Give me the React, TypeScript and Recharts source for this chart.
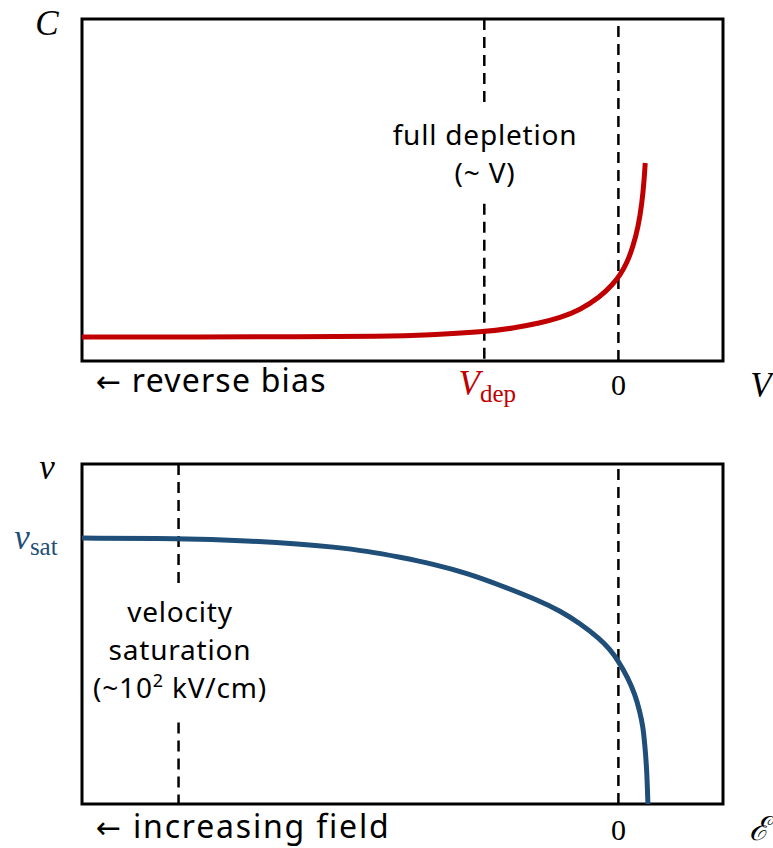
import { LineChart, Line, XAxis, YAxis, ReferenceLine, ReferenceArea } from "recharts";

// shared x domain: 0 sits at ~84% of the box width
const X_MIN = -100;
const X_MAX = 19.5;

// top panel: capacitance vs bias voltage
const biasV = [-100, -78, -59.4, -44.4, -35.1, -25.2, -19.6, -14.6, -10.9, -7.2, -3.4, -1.0, 0.3, 1.6, 2.7, 3.7, 4.4, 4.8, 5.0];
const capacitance = [7.0, 7.0, 7.1, 7.2, 7.6, 8.5, 9.6, 11.1, 12.6, 14.9, 18.7, 22.5, 25.1, 28.7, 33.3, 39.2, 46.2, 52.9, 57.9];
const V_DEP = -25;

// bottom panel: drift velocity vs field
const field = [-100, -81.9, -68.7, -59.4, -53.2, -46.9, -40.7, -34.6, -28.2, -22.1, -14.6, -10.9, -7.2, -3.4, -1.6, -0.1, 1.8, 3.1, 4.0, 4.6, 4.9, 5.3, 5.5];
const velocity = [78.2, 78.1, 77.4, 76.5, 75.6, 74.4, 72.6, 70.6, 67.9, 64.4, 59.7, 56.8, 53.2, 48.5, 45.5, 42.3, 37.0, 32.2, 27.2, 22.6, 17.8, 10.2, 0];
const E_SAT = -82;
const V_SAT = 78;

const capData = biasV.map((v, i) => ({ v, c: capacitance[i] }));
const velData = field.map((e, i) => ({ e, vel: velocity[i] }));

const RED = "#c00000";
const BLUE = "#1f4e79";
const SERIF = "'Liberation Serif', 'DejaVu Serif', serif";
const SANS = "'Noto Sans', sans-serif";
const ARROW = "'DejaVu Sans', sans-serif";
const DASH = "11 7";
const noLig = { fontVariantLigatures: "none" } as const;

const TopXTick = (props: any) => {
  const { x, y, payload } = props;
  const v = payload.value;
  if (v === X_MIN)
    return (
      <text x={x + 14} y={y + 23} fontFamily={SANS} fontSize={32} letterSpacing={1.2} fill="#000" style={noLig}>
        <tspan fontFamily={ARROW} fontSize={30}>←</tspan> reverse bias
      </text>
    );
  if (v === V_DEP)
    return (
      <text x={x + 3} y={y + 26} textAnchor="middle" fontFamily={SERIF} fontSize={35} fill={RED}>
        <tspan fontStyle="italic">V</tspan>
        <tspan fontSize={25} dy={7}>dep</tspan>
      </text>
    );
  if (v === 0)
    return (
      <text x={x} y={y + 26} textAnchor="middle" fontFamily={SERIF} fontSize={30} fill="#000">
        0
      </text>
    );
  return (
    <text x={x + 38} y={y + 28} textAnchor="middle" fontFamily={SERIF} fontStyle="italic" fontSize={35} fill="#000">
      V
    </text>
  );
};

const BottomXTick = (props: any) => {
  const { x, y, payload } = props;
  const v = payload.value;
  if (v === X_MIN)
    return (
      <text x={x + 14} y={y + 26} fontFamily={SANS} fontSize={32} letterSpacing={1.8} fill="#000" style={noLig}>
        <tspan fontFamily={ARROW} fontSize={30}>←</tspan> increasing field
      </text>
    );
  if (v === 0)
    return (
      <text x={x} y={y + 28} textAnchor="middle" fontFamily={SERIF} fontSize={30} fill="#000">
        0
      </text>
    );
  return (
    <text x={x + 36} y={y + 28} textAnchor="middle" fontFamily={SERIF} fontStyle="italic" fontSize={33} fill="#000">
      ℰ
    </text>
  );
};

const TopYTick = (props: any) => {
  const { x, y } = props;
  return (
    <text x={x - 27} y={y + 16} textAnchor="middle" fontFamily={SERIF} fontStyle="italic" fontSize={35} fill="#000">
      C
    </text>
  );
};

const BottomYTick = (props: any) => {
  const { x, y, payload } = props;
  if (payload.value === 100)
    return (
      <text x={x - 27} y={y + 15} textAnchor="middle" fontFamily={SERIF} fontStyle="italic" fontSize={35} fill="#000">
        v
      </text>
    );
  return (
    <text x={x - 38} y={y + 10} textAnchor="middle" fontFamily={SERIF} fontSize={35} fill={BLUE}>
      <tspan fontStyle="italic">v</tspan>
      <tspan fontSize={25} dy={6}>sat</tspan>
    </text>
  );
};

const note = {
  fontFamily: SANS,
  fontSize: 28,
  letterSpacing: 0.8,
  fill: "#000",
  textAnchor: "middle" as const,
  style: noLig,
};

export default function App() {
  return (
    <div style={{ position: "absolute", top: 0, left: 0, width: 773, height: 848, background: "#fff" }}>
      <div style={{ position: "absolute", top: 0, left: 0 }}>
        <LineChart width={773} height={430} data={capData} margin={{ top: 19, right: 50, bottom: 68, left: 81 }}>
          <XAxis
            type="number"
            dataKey="v"
            domain={[X_MIN, X_MAX]}
            ticks={[X_MIN, V_DEP, 0, X_MAX]}
            tick={TopXTick}
            axisLine={false}
            tickLine={false}
            height={1}
            interval={0}
            allowDataOverflow
          />
          <YAxis type="number" domain={[0, 100]} ticks={[100]} tick={TopYTick} axisLine={false} tickLine={false} width={1} interval={0} />
          <ReferenceArea x1={X_MIN} x2={X_MAX} y1={0} y2={100} fill="none" stroke="#000" strokeWidth={3} />
          <ReferenceLine segment={[{ x: V_DEP, y: 100 }, { x: V_DEP, y: 74 }]} stroke="#000" strokeWidth={2.5} strokeDasharray={DASH} />
          <ReferenceLine segment={[{ x: V_DEP, y: 46 }, { x: V_DEP, y: 0 }]} stroke="#000" strokeWidth={2.5} strokeDasharray={DASH} />
          <ReferenceLine x={0} stroke="#000" strokeWidth={2.5} strokeDasharray={DASH} />
          <Line type="basis" dataKey="c" stroke={RED} strokeWidth={5} dot={false} isAnimationActive={false} />
          <text x={485} y={145} {...note}>
            full depletion
          </text>
          <text x={485} y={183} {...note}>
            (~ V)
          </text>
        </LineChart>
      </div>
      <div style={{ position: "absolute", top: 430, left: 0 }}>
        <LineChart width={773} height={418} data={velData} margin={{ top: 34, right: 50, bottom: 43, left: 81 }}>
          <XAxis
            type="number"
            dataKey="e"
            domain={[X_MIN, X_MAX]}
            ticks={[X_MIN, 0, X_MAX]}
            tick={BottomXTick}
            axisLine={false}
            tickLine={false}
            height={1}
            interval={0}
            allowDataOverflow
          />
          <YAxis type="number" domain={[0, 100]} ticks={[100, V_SAT]} tick={BottomYTick} axisLine={false} tickLine={false} width={1} interval={0} />
          <ReferenceArea x1={X_MIN} x2={X_MAX} y1={0} y2={100} fill="none" stroke="#000" strokeWidth={3} />
          <ReferenceLine segment={[{ x: E_SAT, y: 100 }, { x: E_SAT, y: 64 }]} stroke="#000" strokeWidth={2.5} strokeDasharray={DASH} />
          <ReferenceLine segment={[{ x: E_SAT, y: 24 }, { x: E_SAT, y: 0 }]} stroke="#000" strokeWidth={2.5} strokeDasharray={DASH} />
          <ReferenceLine x={0} stroke="#000" strokeWidth={2.5} strokeDasharray={DASH} />
          <Line type="basis" dataKey="vel" stroke={BLUE} strokeWidth={5} dot={false} isAnimationActive={false} />
          <text x={180} y={192} {...note}>
            velocity
          </text>
          <text x={180} y={230} {...note}>
            saturation
          </text>
          <text x={180} y={268} {...note}>
            (~10<tspan fontSize={18} dy={-11}>2</tspan>
            <tspan dy={11}> kV/cm)</tspan>
          </text>
        </LineChart>
      </div>
    </div>
  );
}
